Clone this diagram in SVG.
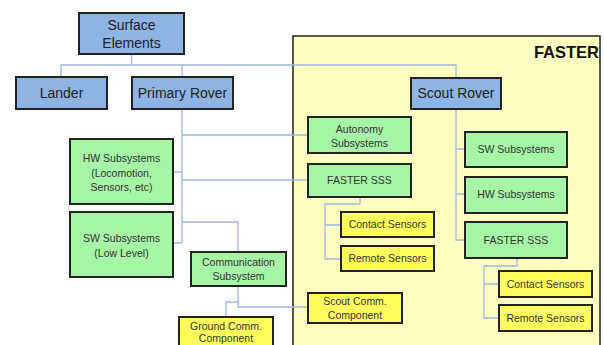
<svg xmlns="http://www.w3.org/2000/svg" width="604" height="345" viewBox="0 0 604 345">
<defs>
<style>
.box{stroke:#222;stroke-width:2}
.blue{fill:#8db4e2}
.green{fill:#a6f5a6}
.yellow{fill:#ffff5e}
.t{font-family:"Liberation Sans",Arial,sans-serif;font-size:10.5px;fill:#333;text-anchor:middle}
.tb{font-family:"Liberation Sans",Arial,sans-serif;font-size:14px;fill:#222;text-anchor:middle}
.c{fill:none;stroke:#9bb8e0;stroke-width:1.3}
</style>
</defs>
<rect width="604" height="345" fill="#fff"/>
<g id="faster">
<rect x="293" y="36" width="307" height="320" fill="#ffffbf" stroke="#222" stroke-width="1.5"/>
<text x="599" y="58" font-family="'Liberation Sans',Arial,sans-serif" font-size="16.5" font-weight="bold" fill="#111" text-anchor="end">FASTER</text>
</g>
<g id="connectors">
<path class="c" d="M131.5 54V65M61 77V65H456V78"/>
<path class="c" d="M182 65V77M182 109V243M182 135H308M173 172H182M182 180H308M182 222H238V252M173 243H182"/>
<path class="c" d="M238 286V307H308M238 302H226V317"/>
<path class="c" d="M360 197V204H325V259H341M325 225H341"/>
<path class="c" d="M456 109V240H465M456 149H465M456 194H465"/>
<path class="c" d="M517 258V266H484V318H499M484 284H499"/>
</g>
<g id="surface"><rect class="box blue" x="79" y="13" width="105" height="41" stroke-width="2.5"/><text class="tb" x="131.5" y="30">Surface</text><text class="tb" x="131.5" y="48">Elements</text></g>
<g id="lander"><rect class="box blue" x="16" y="77" width="91" height="32"/><text class="tb" x="61.5" y="98">Lander</text></g>
<g id="primary"><rect class="box blue" x="132" y="77" width="101" height="32"/><text class="tb" x="182.5" y="98">Primary Rover</text></g>
<g id="scout"><rect class="box blue" x="411" y="78" width="90" height="31"/><text class="tb" x="456" y="98">Scout Rover</text></g>
<g id="hw-left"><rect class="box green" x="70" y="139" width="103" height="65"/><text class="t" x="121.5" y="162">HW Subsystems</text><text class="t" x="121.5" y="177">(Locomotion,</text><text class="t" x="121.5" y="191">Sensors, etc)</text></g>
<g id="sw-left"><rect class="box green" x="70" y="212" width="103" height="65"/><text class="t" x="121.5" y="242">SW Subsystems</text><text class="t" x="121.5" y="257">(Low Level)</text></g>
<g id="comm"><rect class="box green" x="191" y="252" width="95" height="34"/><text class="t" x="238.5" y="266">Communication</text><text class="t" x="238.5" y="280">Subsystem</text></g>
<g id="ground"><rect class="box yellow" x="179" y="317" width="94" height="40"/><text class="t" x="226" y="330">Ground Comm.</text><text class="t" x="226" y="342" font-size="10px">Component</text></g>
<g id="autonomy"><rect class="box green" x="308" y="117" width="103" height="36"/><text class="t" x="359.5" y="133">Autonomy</text><text class="t" x="359.5" y="147">Subsystems</text></g>
<g id="sss-left"><rect class="box green" x="308" y="164" width="103" height="33"/><text class="t" x="359.5" y="184">FASTER SSS</text></g>
<g id="contact-left"><rect class="box yellow" x="341" y="212" width="93" height="25"/><text class="t" x="387.5" y="228">Contact Sensors</text></g>
<g id="remote-left"><rect class="box yellow" x="341" y="246" width="93" height="25"/><text class="t" x="387.5" y="262">Remote Sensors</text></g>
<g id="scout-comm"><rect class="box yellow" x="308" y="293" width="94" height="30"/><text class="t" x="355" y="305">Scout Comm.</text><text class="t" x="355" y="319">Component</text></g>
<g id="sw-right"><rect class="box green" x="465" y="132" width="102" height="35"/><text class="t" x="516" y="153">SW Subsystems</text></g>
<g id="hw-right"><rect class="box green" x="465" y="177" width="102" height="36"/><text class="t" x="516" y="198">HW Subsystems</text></g>
<g id="sss-right"><rect class="box green" x="465" y="222" width="102" height="36"/><text class="t" x="516" y="244">FASTER SSS</text></g>
<g id="contact-right"><rect class="box yellow" x="499" y="271" width="93" height="26"/><text class="t" x="545.5" y="288">Contact Sensors</text></g>
<g id="remote-right"><rect class="box yellow" x="499" y="305" width="93" height="26"/><text class="t" x="545.5" y="322">Remote Sensors</text></g>
</svg>
